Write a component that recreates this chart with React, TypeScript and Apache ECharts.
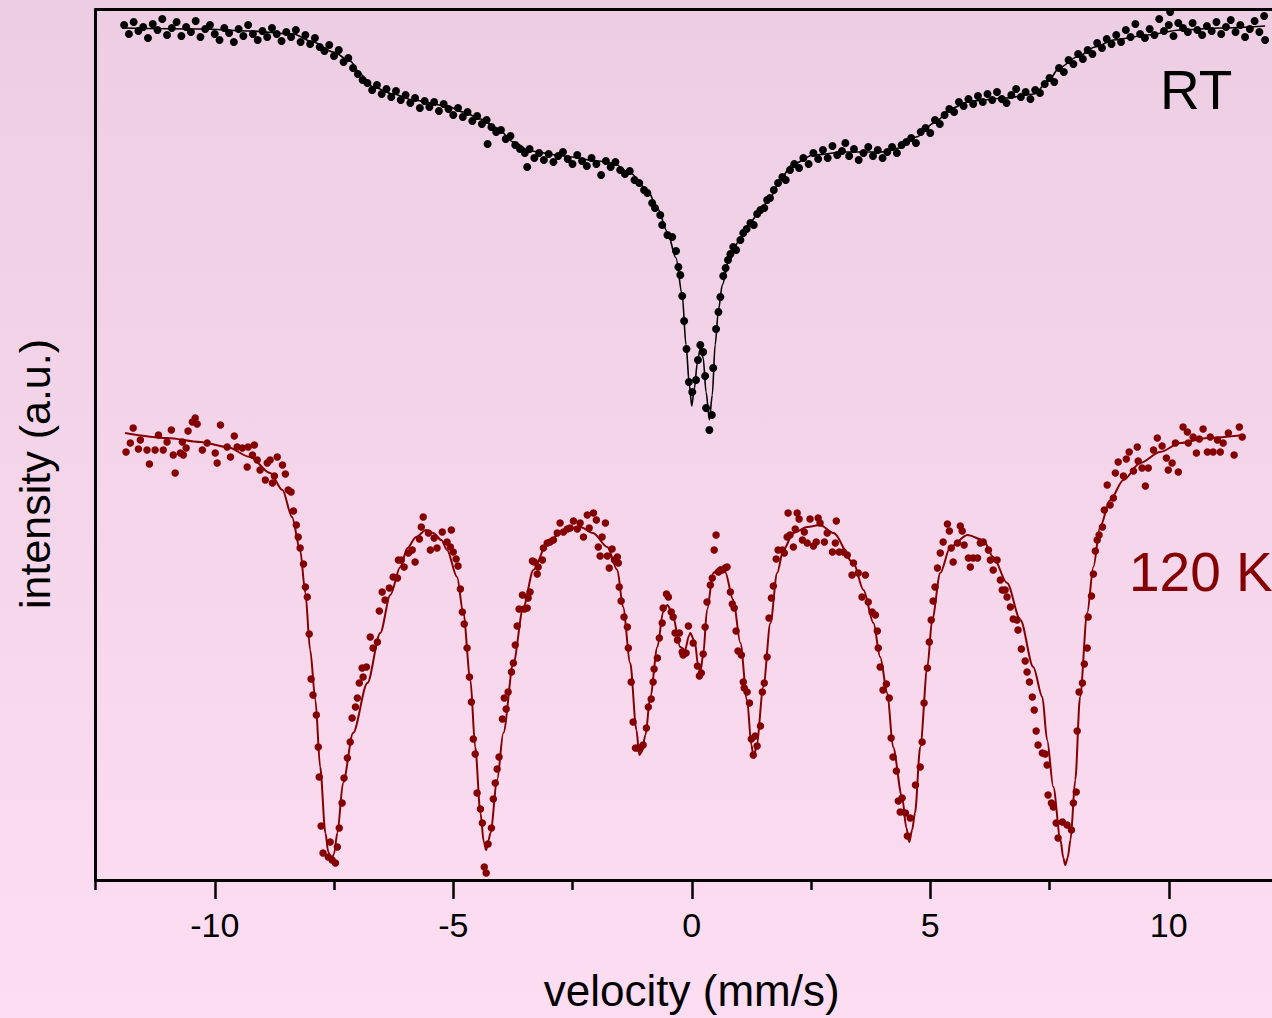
import React, { useEffect, useRef } from "react";
import * as echarts from "echarts";

// ---- Data (velocity in mm/s, intensity in arbitrary units) ----
const majorTicks = [-10, -5, 0, 5, 10];
const minorTicks = [-12.5, -7.5, -2.5, 2.5, 7.5, 12.5];

const rtVelocity = [
  -11.9, -11.8, -11.7, -11.6, -11.5, -11.4, -11.3, -11.2, -11.1, -11.0,
  -10.9, -10.8, -10.7, -10.6, -10.5, -10.4, -10.3, -10.2, -10.1, -10.0,
  -9.9, -9.8, -9.7, -9.6, -9.5, -9.4, -9.3, -9.2, -9.1, -9.0,
  -8.9, -8.8, -8.7, -8.6, -8.5, -8.4, -8.3, -8.2, -8.1, -8.0,
  -7.9, -7.8, -7.7, -7.6, -7.5, -7.4, -7.3, -7.2, -7.1, -7.0,
  -6.9, -6.8, -6.7, -6.6, -6.5, -6.4, -6.3, -6.2, -6.1, -6.0,
  -5.9, -5.8, -5.7, -5.6, -5.5, -5.4, -5.3, -5.2, -5.1, -5.0,
  -4.9, -4.8, -4.7, -4.6, -4.5, -4.4, -4.3, -4.28, -4.2, -4.1, -4.0,
  -3.9, -3.8, -3.7, -3.6, -3.5, -3.45, -3.4, -3.3, -3.2, -3.1, -3.0,
  -2.9, -2.8, -2.7, -2.6, -2.5, -2.4, -2.3, -2.2, -2.1, -2.0,
  -1.9, -1.8, -1.7, -1.6, -1.5, -1.4, -1.3, -1.2, -1.1, -1.0,
  -0.93, -0.83, -0.77, -0.66, -0.62, -0.51, -0.41, -0.33, -0.28, -0.24,
  -0.2, -0.16, -0.11, -0.06, 0.01, 0.09, 0.13, 0.18, 0.24, 0.28,
  0.3, 0.37, 0.42, 0.45, 0.51, 0.56, 0.6, 0.66, 0.71, 0.76,
  0.81, 0.87, 0.93, 1.02, 1.08, 1.15, 1.23, 1.3, 1.37, 1.44,
  1.52, 1.58, 1.64, 1.72, 1.81, 1.9, 1.97, 2.06, 2.15, 2.25, 2.34, 2.45,
  2.55, 2.65, 2.75, 2.85, 2.95, 3.05, 3.15, 3.22, 3.3, 3.4,
  3.5, 3.6, 3.7, 3.8, 3.9, 4.0, 4.1, 4.2, 4.3, 4.4,
  4.5, 4.6, 4.7, 4.8, 4.9, 5.0, 5.1, 5.2, 5.3, 5.4,
  5.5, 5.6, 5.7, 5.8, 5.9, 6.0, 6.1, 6.2, 6.3, 6.4,
  6.5, 6.6, 6.7, 6.8, 6.9, 7.0, 7.1, 7.2, 7.3, 7.4,
  7.5, 7.6, 7.7, 7.8, 7.9, 8.0, 8.1, 8.2, 8.3, 8.4,
  8.5, 8.6, 8.7, 8.8, 8.9, 9.0, 9.1, 9.2, 9.3, 9.4,
  9.5, 9.6, 9.7, 9.8, 9.9, 10.0, 10.03, 10.1, 10.2, 10.3, 10.4,
  10.5, 10.6, 10.7, 10.8, 10.9, 11.0, 11.1, 11.2, 11.3, 11.4,
  11.5, 11.6, 11.7, 11.8, 11.9, 12.0, 12.02,
];
const rtIntensity = [
  855, 846, 858, 849, 853, 842, 856, 850, 861, 845,
  852, 858, 844, 853, 848, 859, 843, 851, 855, 846,
  840, 852, 847, 838, 851, 844, 855, 846, 840, 849,
  843, 852, 846, 839, 848, 843, 850, 838, 845, 836,
  842, 833, 829, 835, 824, 830, 818, 822, 812, 806,
  800, 797, 790, 795, 786, 791, 783, 789, 780, 785,
  777, 782, 772, 779, 773, 778, 769, 776, 771, 765,
  772, 763, 768, 759, 764, 756, 760, 736, 753, 748, 750,
  741, 744, 735, 731, 727, 713, 731, 722, 727, 720, 726,
  718, 724, 728, 721, 716, 725, 719, 714, 722, 716,
  705, 719, 713, 718, 710, 706, 709, 700, 697, 690,
  687, 677, 672, 665, 655, 645, 643, 629, 613, 605,
  584, 559, 531, 498, 488, 500, 520, 535, 528, 504,
  472, 450, 465, 512, 551, 568, 583, 604, 612, 620,
  626, 633, 630, 640, 647, 651, 657, 655, 666, 670,
  672, 680, 682, 690, 697, 703, 700, 710, 716, 712, 722, 716,
  727, 721, 730, 722, 734, 725, 729, 737, 724, 731,
  720, 727, 733, 724, 730, 722, 728, 733, 727, 735,
  738, 742, 737, 748, 752, 747, 760, 756, 765, 771,
  768, 778, 774, 781, 776, 784, 778, 786, 780, 788,
  781, 777, 785, 791, 783, 788, 781, 790, 787, 796,
  802, 798, 812, 808, 820, 816, 826, 821, 830, 826,
  837, 832, 841, 836, 845, 838, 850, 843, 856, 846,
  842, 851, 845, 861, 849, 855, 868, 844, 857, 852, 848,
  857, 850, 845, 854, 849, 858, 846, 853, 860, 848,
  855, 843, 851, 859, 848, 864, 840,
];

const rtFitVelocity = [
  -11.94, -10.3, -9.26, -8.36, -7.94, -7.52, -7.16, -6.95, -6.68, -6.26,
  -5.84, -5.13, -4.79, -4.43, -4.08, -3.74, -3.39, -2.69, -1.98, -1.65,
  -1.29, -0.93, -0.72, -0.51, -0.33, -0.2, -0.12, -0.05, 0, 0.05,
  0.12, 0.18, 0.24, 0.3, 0.37, 0.43, 0.49, 0.56, 0.64, 0.77,
  1.02, 1.23, 1.44, 1.65, 1.88, 2.09, 2.55, 3.22, 3.97, 4.35,
  4.71, 5.08, 5.46, 5.84, 6.59, 7.18, 7.49, 7.7, 8.08, 8.46,
  8.84, 9.55, 10.24, 11.08, 12.02,
];
const rtFitIntensity = [
  852, 851, 849, 846, 838, 828, 819, 806, 793, 786,
  780, 774, 768, 761, 752, 738, 729, 724, 719, 717,
  707, 690, 672, 648, 622, 585, 535, 495, 474, 490,
  518, 532, 522, 488, 460, 485, 535, 570, 595, 618,
  642, 658, 670, 683, 702, 715, 725, 728, 728, 732,
  743, 757, 772, 779, 782, 786, 800, 812, 823, 833,
  840, 845, 850, 852, 854,
];

const k120Velocity = [
  -11.86, -11.77, -11.71, -11.6, -11.56, -11.42, -11.37, -11.25, -11.18, -11.08,
  -11.0, -10.91, -10.87, -10.83, -10.72, -10.68, -10.66, -10.6, -10.56, -10.47,
  -10.41, -10.37, -10.26, -10.16, -9.99, -9.95, -9.88, -9.74, -9.67, -9.59,
  -9.53, -9.42, -9.32, -9.3, -9.21, -9.17, -9.11, -9.05, -8.94, -8.9,
  -8.84, -8.79, -8.75, -8.69, -8.58, -8.52, -8.46, -8.4, -8.35, -8.29,
  -8.25, -8.21, -8.14, -8.1, -8.06, -8.02, -7.98, -7.94, -7.87, -7.83,
  -7.81, -7.77, -7.73, -7.62, -7.58, -7.54, -7.47, -7.43, -7.39, -7.33,
  -7.29, -7.22, -7.16, -7.12, -7.05, -7.01, -6.97, -6.91, -6.89, -6.82,
  -6.74, -6.68, -6.59, -6.55, -6.49, -6.43, -6.34, -6.26, -6.17, -6.15,
  -6.09, -6.03, -5.94, -5.86, -5.8, -5.71, -5.67, -5.63, -5.52, -5.48,
  -5.4, -5.34, -5.23, -5.13, -5.06, -5.04, -5.0, -4.94, -4.9, -4.85,
  -4.81, -4.77, -4.71, -4.66, -4.62, -4.58, -4.54, -4.5, -4.43, -4.39,
  -4.35, -4.31, -4.27, -4.2, -4.16, -4.12, -4.08, -4.04, -3.97, -3.93,
  -3.89, -3.85, -3.78, -3.74, -3.7, -3.66, -3.62, -3.55, -3.51, -3.45,
  -3.43, -3.39, -3.34, -3.3, -3.24, -3.22, -3.13, -3.11, -3.03, -2.97,
  -2.9, -2.82, -2.76, -2.69, -2.61, -2.55, -2.48, -2.4, -2.34, -2.27,
  -2.19, -2.15, -2.06, -2.0, -1.96, -1.92, -1.88, -1.81, -1.77, -1.73,
  -1.67, -1.62, -1.56, -1.54, -1.52, -1.48, -1.42, -1.35, -1.33, -1.27,
  -1.23, -1.18, -1.12, -1.08, -1.02, -0.95, -0.91, -0.85, -0.81, -0.79,
  -0.72, -0.68, -0.62, -0.6, -0.53, -0.49, -0.43, -0.39, -0.35, -0.3,
  -0.26, -0.2, -0.18, -0.12, -0.07, 0.03, 0.12, 0.16, 0.2, 0.24,
  0.28, 0.32, 0.39, 0.43, 0.47, 0.51, 0.56, 0.64, 0.7, 0.74,
  0.81, 0.85, 0.89, 0.93, 0.97, 1.04, 1.08, 1.1, 1.16, 1.21,
  1.25, 1.29, 1.33, 1.37, 1.44, 1.48, 1.52, 1.58, 1.62, 1.67,
  1.71, 1.77, 1.81, 1.9, 1.94, 2.0, 2.02, 2.06, 2.13, 2.17,
  2.21, 2.25, 2.32, 2.36, 2.42, 2.48, 2.55, 2.61, 2.65, 2.69,
  2.78, 2.84, 2.95, 3.01, 3.03, 3.09, 3.18, 3.26, 3.36, 3.39,
  3.49, 3.57, 3.64, 3.7, 3.78, 3.85, 3.89, 3.91, 3.95, 4.01,
  4.08, 4.14, 4.18, 4.22, 4.29, 4.33, 4.37, 4.41, 4.48, 4.52,
  4.58, 4.69, 4.79, 4.83, 4.87, 4.94, 4.98, 5.02, 5.06, 5.1,
  5.15, 5.21, 5.27, 5.36, 5.4, 5.44, 5.48, 5.57, 5.63, 5.67,
  5.71, 5.8, 5.84, 5.9, 5.99, 6.05, 6.11, 6.22, 6.26, 6.32,
  6.4, 6.47, 6.51, 6.57, 6.61, 6.68, 6.74, 6.82, 6.84, 6.91,
  6.99, 7.03, 7.08, 7.14, 7.18, 7.22, 7.26, 7.35, 7.41, 7.45,
  7.47, 7.54, 7.58, 7.64, 7.68, 7.77, 7.87, 7.96, 8.0, 8.06,
  8.08, 8.12, 8.19, 8.23, 8.29, 8.31, 8.38, 8.42, 8.46, 8.5,
  8.54, 8.61, 8.65, 8.71, 8.77, 8.84, 8.88, 8.94, 9.05, 9.11,
  9.17, 9.26, 9.34, 9.36, 9.44, 9.51, 9.57, 9.68, 9.76, 9.86,
  9.95, 9.99, 10.07, 10.14, 10.2, 10.3, 10.39, 10.41, 10.51, 10.58,
  10.64, 10.72, 10.81, 10.87, 10.93, 11.02, 11.08, 11.14, 11.25, 11.37,
  11.48, 11.54,
];
const k120Intensity = [
  428, 437, 452, 431, 440, 430, 416, 430, 445, 430,
  438, 450, 425, 407, 427, 438, 425, 432, 449, 458,
  462, 456, 430, 437, 427, 417, 455, 433, 423, 444,
  433, 432, 413, 433, 425, 435, 420, 410, 400, 417,
  420, 397, 404, 423, 415, 406, 390, 388, 369, 355,
  343, 332, 316, 293, 283, 246, 201, 185, 165, 133,
  103, 54, 27, 23, 38, 20, 17, 33, 52, 77,
  102, 122, 138, 162, 173, 182, 197, 212, 203, 213,
  243, 232, 238, 269, 288, 280, 292, 303, 302, 320,
  320, 313, 327, 330, 318, 341, 353, 363, 347, 330,
  342, 332, 348, 338, 333, 350, 328, 321, 314, 291,
  268, 256, 232, 203, 178, 141, 126, 87, 71, 57,
  13, 7, 36, 52, 81, 97, 111, 123, 161, 182,
  171, 188, 208, 217, 235, 254, 271, 285, 271, 272,
  282, 288, 319, 318, 306, 313, 320, 332, 337, 338,
  340, 347, 357, 348, 351, 352, 359, 351, 357, 343,
  365, 352, 367, 360, 333, 324, 343, 357, 324, 312,
  331, 320, 323, 317, 293, 279, 263, 253, 232, 198,
  158, 132, 132, 132, 135, 152, 173, 181, 198, 211,
  222, 242, 257, 272, 286, 283, 268, 263, 247, 240,
  247, 228, 225, 227, 254, 237, 214, 204, 207, 226,
  253, 278, 295, 302, 330, 345, 308, 310, 312, 313,
  288, 276, 272, 249, 229, 225, 198, 192, 188, 177,
  141, 125, 144, 134, 154, 188, 197, 223, 262, 282,
  294, 321, 330, 330, 327, 343, 367, 345, 333, 351,
  367, 361, 340, 348, 337, 361, 334, 338, 362, 357,
  338, 347, 328, 337, 359, 328, 328, 325, 305, 317,
  307, 283, 305, 278, 268, 265, 249, 232, 213, 190,
  196, 182, 142, 123, 109, 79, 68, 82, 67, 44,
  62, 95, 113, 138, 177, 212, 238, 260, 279, 293,
  312, 327, 338, 356, 349, 332, 318, 337, 354, 349,
  335, 322, 313, 322, 322, 337, 338, 330, 320, 310,
  320, 300, 290, 290, 283, 273, 261, 260, 250, 231,
  219, 208, 198, 183, 170, 149, 135, 127, 126, 115,
  85, 77, 73, 57, 42, 58, 55, 50, 77, 88,
  149, 188, 197, 216, 232, 263, 284, 306, 329, 340,
  345, 353, 370, 395, 375, 382, 407, 418, 404, 421,
  428, 409, 433, 419, 412, 394, 412, 430, 442, 434,
  422, 410, 417, 437, 408, 453, 448, 437, 443, 427,
  441, 451, 428, 443, 428, 440, 428, 437, 447, 425,
  453, 443,
];

const k120FitVelocity = [
  -11.88, -11.0, -10.3, -9.74, -9.26, -8.84, -8.58, -8.38, -8.21, -8.1,
  -8.0, -7.89, -7.79, -7.68, -7.62, -7.56, -7.5, -7.43, -7.31, -7.1,
  -6.8, -6.53, -6.32, -6.11, -5.96, -5.78, -5.57, -5.42, -5.25, -5.13,
  -4.92, -4.79, -4.64, -4.54, -4.43, -4.36, -4.31, -4.26, -4.22, -4.08,
  -3.95, -3.74, -3.53, -3.32, -3.03, -2.69, -2.34, -2.07, -1.77, -1.56,
  -1.44, -1.29, -1.16, -1.1, -1.05, -0.97, -0.87, -0.72, -0.6, -0.51,
  -0.41, -0.24, -0.14, -0.06, -0.03, 0.07, 0.13, 0.18, 0.24, 0.32,
  0.45, 0.6, 0.7, 0.87, 1.02, 1.16, 1.25, 1.3, 1.36, 1.5,
  1.65, 1.79, 1.92, 2.13, 2.42, 2.69, 2.97, 3.39, 3.6, 3.81,
  3.95, 4.1, 4.22, 4.41, 4.5, 4.56, 4.62, 4.68, 4.79, 4.94,
  5.04, 5.21, 5.42, 5.78, 6.11, 6.32, 6.61, 6.89, 7.16, 7.35,
  7.45, 7.58, 7.73, 7.79, 7.83, 7.88, 7.94, 8.04, 8.14, 8.29,
  8.42, 8.56, 8.77, 9.05, 9.4, 9.82, 10.24, 10.81, 11.56,
];
const k120FitIntensity = [
  447, 442, 438, 433, 423, 407, 390, 363, 330, 287,
  230, 180, 113, 47, 28, 20, 26, 47, 97, 147,
  197, 247, 285, 313, 332, 343, 350, 347, 340, 330,
  303, 267, 200, 133, 67, 38, 30, 40, 47, 100,
  147, 217, 273, 310, 337, 350, 353, 347, 333, 310,
  273, 217, 150, 125, 128, 145, 183, 233, 268, 275,
  267, 233, 230, 244, 247, 237, 215, 208, 225, 270,
  307, 313, 308, 280, 237, 180, 135, 122, 135, 193,
  257, 307, 330, 347, 353, 355, 347, 317, 290, 257,
  223, 187, 133, 83, 52, 38, 50, 67, 133, 213,
  260, 307, 333, 345, 340, 323, 297, 260, 213, 183,
  140, 93, 40, 22, 15, 22, 40, 100, 183, 267,
  313, 353, 380, 400, 417, 428, 437, 442, 445,
];

const RT_COLOR = "#000000";
const K120_COLOR = "#850000";
const FONT = "'Liberation Sans', Arial, Helvetica, sans-serif";

const pairs = (xs: number[], ys: number[]) => xs.map((x, i) => [x, ys[i]]);

export default function App() {
  const ref = useRef<HTMLDivElement>(null);

  useEffect(() => {
    document.documentElement.style.overflow = "hidden";
    document.body.style.margin = "0";
    document.body.style.overflow = "hidden";
    const chart = echarts.init(ref.current as HTMLDivElement, null, { renderer: "svg" });

    const axisBase = {
      type: "value",
      min: -12.5,
      max: 12.5,
      splitLine: { show: false },
    };

    chart.setOption({
      animation: false,
      backgroundColor: {
        type: "linear",
        x: 0,
        y: 0,
        x2: 0,
        y2: 1,
        colorStops: [
          { offset: 0, color: "#ECCDE2" },
          { offset: 1, color: "#FDDDF1" },
        ],
      },
      grid: { left: 95.5, right: 0, top: 9.5, bottom: 138 },
      xAxis: [
        {
          ...axisBase,
          position: "bottom",
          name: "velocity (mm/s)",
          nameLocation: "middle",
          nameGap: 88,
          nameTextStyle: { fontSize: 44, color: "#000", fontFamily: FONT },
          axisLine: { show: true, onZero: false, lineStyle: { color: "#000", width: 3 } },
          axisTick: {
            show: true,
            customValues: majorTicks,
            length: 19,
            lineStyle: { color: "#000", width: 2.5 },
          },
          axisLabel: {
            show: true,
            customValues: majorTicks,
            margin: 28,
            fontSize: 34,
            color: "#000",
            fontFamily: FONT,
          },
        },
        {
          ...axisBase,
          position: "bottom",
          axisLine: { show: false, onZero: false },
          axisTick: {
            show: true,
            customValues: minorTicks,
            length: 10,
            lineStyle: { color: "#000", width: 2.5 },
          },
          axisLabel: { show: false },
        },
        {
          ...axisBase,
          position: "top",
          axisLine: { show: true, onZero: false, lineStyle: { color: "#000", width: 3 } },
          axisTick: { show: false },
          axisLabel: { show: false },
        },
      ],
      yAxis: {
        type: "value",
        min: 0,
        max: 870.5,
        axisLine: { show: true, onZero: false, lineStyle: { color: "#000", width: 3 } },
        axisTick: { show: false },
        axisLabel: { show: false },
        splitLine: { show: false },
      },
      graphic: [
        {
          type: "text",
          x: 35,
          y: 474,
          rotation: Math.PI / 2,
          style: {
            text: "intensity (a.u.)",
            fontSize: 43,
            fontFamily: FONT,
            fill: "#000",
            align: "center",
            verticalAlign: "middle",
            textAlign: "center",
            textVerticalAlign: "middle",
          },
        },
        {
          type: "text",
          x: 1160,
          y: 90,
          style: {
            text: "RT",
            fontSize: 55,
            fontFamily: FONT,
            fill: RT_COLOR,
            align: "left",
            verticalAlign: "middle",
            textAlign: "left",
            textVerticalAlign: "middle",
          },
        },
        {
          type: "text",
          x: 1129,
          y: 572,
          style: {
            text: "120 K",
            fontSize: 55,
            fontFamily: FONT,
            fill: K120_COLOR,
            align: "left",
            verticalAlign: "middle",
            textAlign: "left",
            textVerticalAlign: "middle",
          },
        },
      ],
      series: [
        {
          name: "RT data",
          type: "scatter",
          data: pairs(rtVelocity, rtIntensity),
          symbol: "circle",
          symbolSize: 8,
          itemStyle: { color: RT_COLOR, opacity: 1 },
          z: 2,
        },
        {
          name: "120 K data",
          type: "scatter",
          data: pairs(k120Velocity, k120Intensity),
          symbol: "circle",
          symbolSize: 7.5,
          itemStyle: { color: K120_COLOR, opacity: 1 },
          z: 2,
        },
        {
          name: "RT fit",
          type: "line",
          data: pairs(rtFitVelocity, rtFitIntensity),
          showSymbol: false,
          smooth: 0.3,
          smoothMonotone: "x",
          lineStyle: { color: RT_COLOR, width: 1.6 },
          z: 3,
        },
        {
          name: "120 K fit",
          type: "line",
          data: pairs(k120FitVelocity, k120FitIntensity),
          showSymbol: false,
          smooth: 0.3,
          smoothMonotone: "x",
          lineStyle: { color: K120_COLOR, width: 2 },
          z: 3,
        },
      ],
    });

    return () => chart.dispose();
  }, []);

  return <div ref={ref} style={{ width: 1288, height: 1018 }} />;
}
